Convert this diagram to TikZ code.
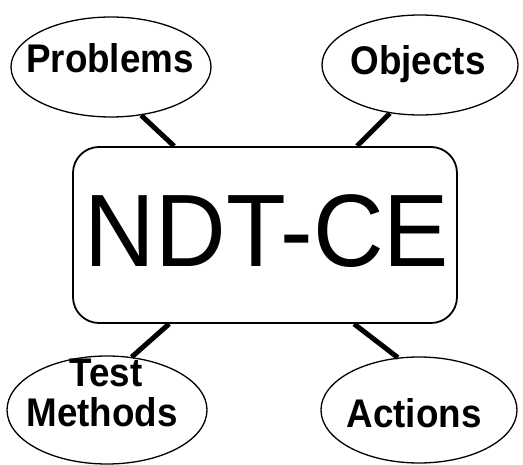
\documentclass[tikz,border=0pt]{standalone}
\usepackage{fontspec}
\setmainfont{Liberation Sans}
\newfontfamily\lblfont[FakeStretch=0.92]{Liberation Sans}
\newfontfamily\bigfont[FakeStretch=0.95]{Liberation Sans}
\usetikzlibrary{shapes.geometric}
\begin{document}
\begin{tikzpicture}[x=1pt,y=-1pt,
  oval/.style={draw, ellipse, line width=1.3pt, inner sep=0pt, fill=white},
  lbl/.style={anchor=base, inner sep=0pt, font=\lblfont\bfseries\fontsize{40}{40}\selectfont},
  hub/.style={draw, rounded corners=26pt, line width=1.8pt, fill=white, inner sep=0pt},
  link/.style={line width=5pt}]
\useasboundingbox (0,0) rectangle (523,465);
% central box
\node[hub, minimum width=384pt, minimum height=176pt] (ndt) at (265,235) {};
\node[anchor=base, inner sep=0pt, font=\bigfont\fontsize{103}{103}\selectfont] (ndtlbl) at (267,267) {NDT-CE};
% ellipses
\node[oval, minimum width=200pt, minimum height=100pt] (prob) at (111,67) {};
\node[oval, minimum width=196pt, minimum height=100pt] (obj) at (420,65) {};
\node[oval, minimum width=200pt, minimum height=108pt] (test) at (107,410) {};
\node[oval, minimum width=196pt, minimum height=106pt] (act) at (419,410) {};
% labels
\node[lbl] (problbl) at (110,73) {Problems};
\node[lbl] (objlbl) at (418,75) {Objects};
\node[lbl] (testlbl) at (106,387) {Test};
\node[lbl] (methlbl) at (102,427) {Methods};
\node[lbl] (actlbl) at (414,428) {Actions};
% connectors
\draw[link] (prob.-58) -- ([xshift=102pt]ndt.north west);
\draw[link] (obj.-122) -- ([xshift=285pt]ndt.north west);
\draw[link] (test.65) -- ([xshift=97pt]ndt.south west);
\draw[link] (act.112) -- ([xshift=282pt]ndt.south west);
\end{tikzpicture}
\end{document}
